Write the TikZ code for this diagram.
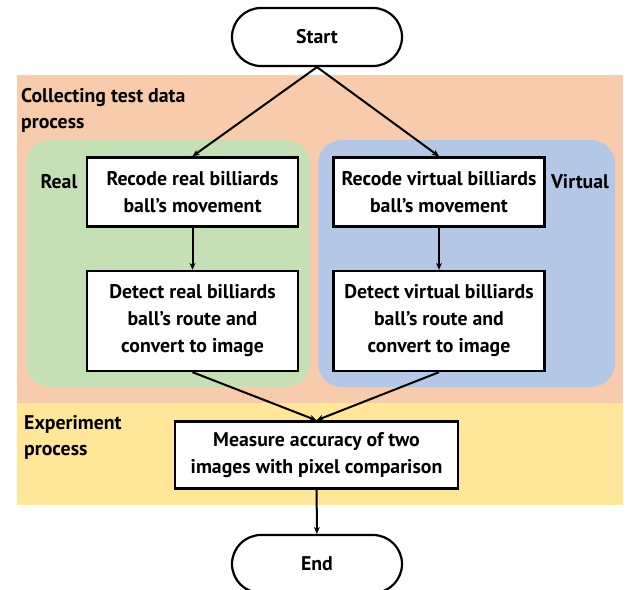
\documentclass[tikz,border=0pt]{standalone}
\usepackage{fontspec}
\setmainfont{PT Sans}
\usepackage{tikz}
\usetikzlibrary{arrows.meta}
\usepackage{xcolor}
\definecolor{orangebg}{HTML}{F8CBAD}
\definecolor{greenbg}{HTML}{C5E0B4}
\definecolor{bluebg}{HTML}{B4C7E7}
\definecolor{yellowbg}{HTML}{FFE699}

\begin{document}
\begin{tikzpicture}[x=1pt,y=-1pt,
  box/.style={draw,line width=2.4pt,fill=white,align=center,font=\fontsize{19.8}{27}\selectfont\bfseries,inner sep=0pt},
  term/.style={box,line width=2.2pt,rounded corners=29pt,minimum width=170pt,minimum height=58pt},
  lbl/.style={align=left,font=\fontsize{19.8}{26}\selectfont\bfseries,inner sep=0pt},
  flow/.style={line width=2pt,-{Stealth[length=7pt,width=6pt]}}]
  \useasboundingbox (0,0) rectangle (629,589);
  % backgrounds
  \fill[orangebg] (17,75) rectangle (623,403);
  \fill[yellowbg] (17,403) rectangle (623,505);
  \fill[greenbg,rounded corners=24pt] (26,140) rectangle (310,387);
  \fill[bluebg,rounded corners=24pt] (318,140) rectangle (615,387);
  \node[lbl,anchor=north west] (collect) at (21,88) {Collecting test data\\process};
  \node[lbl,anchor=north west] (experiment) at (24,415) {Experiment\\process};
  \node[lbl] (real) at (59,182) {Real};
  \node[lbl] (virtual) at (580,182) {Virtual};
  % flow
  \node[term] (start) at (317,37) {Start};
  \node[box,minimum width=211pt,minimum height=69pt] (recreal) at (192.5,192) {Recode real billiards\\ball's movement};
  \node[box,minimum width=211pt,minimum height=69pt] (recvirt) at (439,192) {Recode virtual billiards\\ball's movement};
  \node[box,minimum width=211pt,minimum height=100pt] (detreal) at (192.5,321) {Detect real billiards\\ball's route and\\convert to image};
  \node[box,minimum width=211pt,minimum height=100pt] (detvirt) at (439,321) {Detect virtual billiards\\ball's route and\\convert to image};
  \node[box,minimum width=283pt,minimum height=67pt] (measure) at (316.5,455) {Measure accuracy of two\\images with pixel comparison};
  \node[term] (end) at (317,564) {End};
  \draw[flow] (start.south) -- (recreal.north);
  \draw[flow] (start.south) -- (recvirt.north);
  \draw[flow] (recreal) -- (detreal);
  \draw[flow] (recvirt) -- (detvirt);
  \draw[flow] (detreal.south) -- (measure.north);
  \draw[flow] (detvirt.south) -- (measure.north);
  \draw[flow] (measure) -- (end);
\end{tikzpicture}
\end{document}
